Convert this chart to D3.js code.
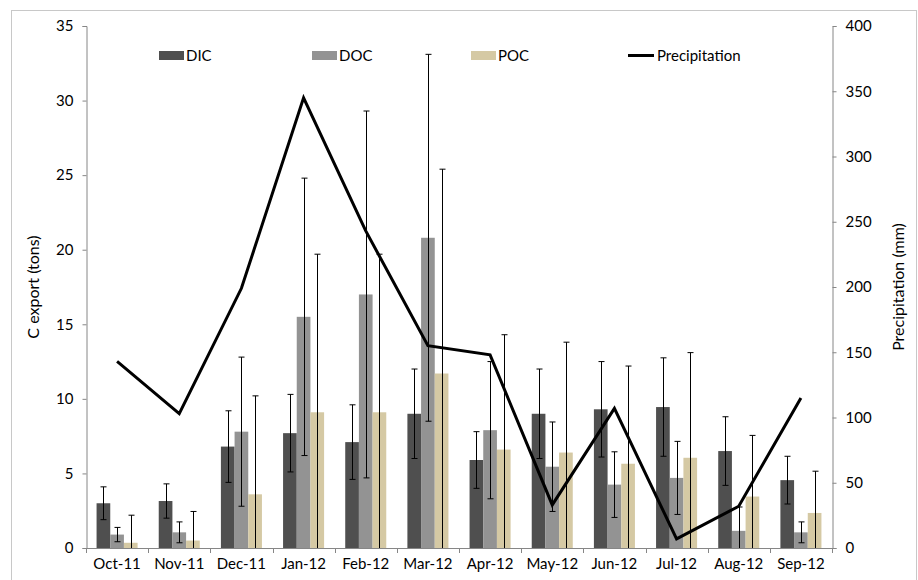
<!DOCTYPE html>
<html>
<head>
<meta charset="utf-8">
<script src="https://cdn.jsdelivr.net/npm/d3@7"></script>
<style>
    body { margin: 0; background: #fff; }
    svg text { font-family: Lato, 'Open Sans', sans-serif; fill: #000; }
</style>
</head>
<body>
<svg id="chart-svg" width="918" height="580"></svg>
<script>
const months = ['Oct-11', 'Nov-11', 'Dec-11', 'Jan-12', 'Feb-12', 'Mar-12', 'Apr-12', 'May-12', 'Jun-12', 'Jul-12', 'Aug-12', 'Sep-12'];
const dic = [3.0, 3.15, 6.8, 7.7, 7.1, 9.0, 5.9, 9.0, 9.3, 9.45, 6.5, 4.55];
const dicErr = [1.1, 1.15, 2.4, 2.6, 2.5, 3.0, 1.9, 3.0, 3.2, 3.3, 2.3, 1.6];
const doc = [0.9, 1.05, 7.8, 15.5, 17.0, 20.8, 7.9, 5.45, 4.25, 4.7, 1.15, 1.05];
const docErr = [0.48, 0.7, 5.0, 9.3, 12.3, 12.3, 4.6, 3.0, 2.2, 2.45, 1.6, 0.7];
const poc = [0.35, 0.5, 3.6, 9.1, 9.1, 11.7, 6.6, 6.4, 5.65, 6.05, 3.45, 2.35];
const pocErr = [1.85, 1.95, 6.6, 10.6, 10.6, 13.7, 7.7, 7.4, 6.55, 7.05, 4.1, 2.8];
const precip = [143, 103, 199, 345, 243, 155, 148, 33, 107, 7, 32, 115];

const leftTicks = [0, 5, 10, 15, 20, 25, 30, 35];
const rightTicks = [0, 50, 100, 150, 200, 250, 300, 350, 400];

const margin = { left: 86, right: 86, top: 26, bottom: 32 };
const size = { width: 918, height: 580 };
const axisColor = '#868686';

const series = [
    { name: 'DIC', values: dic, err: dicErr, color: '#4f4f4f' },
    { name: 'DOC', values: doc, err: docErr, color: '#939393' },
    { name: 'POC', values: poc, err: pocErr, color: '#d5c9a4' }
];

const svg = d3.select('#chart-svg');

// outer frame
svg.append('rect')
    .attr('x', 11.5).attr('y', 10.5)
    .attr('width', 905).attr('height', 580)
    .attr('fill', 'none')
    .attr('stroke', '#c8c8c8');

const x = d3.scaleBand()
    .domain(months)
    .range([margin.left, size.width - margin.right]);

const xInner = d3.scaleBand()
    .domain(series.map(s => s.name))
    .range([x.bandwidth() * 0.17, x.bandwidth() * 0.83]);

const y = d3.scaleLinear()
    .domain([0, 35])
    .range([size.height - margin.bottom, margin.top]);

const y2 = d3.scaleLinear()
    .domain([0, 400])
    .range([size.height - margin.bottom, margin.top]);

// Bars
const groups = svg.append('g')
    .selectAll('g')
    .data(series)
    .enter()
    .append('g');

groups.selectAll('rect')
    .data(s => s.values.map((v, i) => ({ s, v, i })))
    .enter()
    .append('rect')
    .attr('x', d => x(months[d.i]) + xInner(d.s.name))
    .attr('y', d => y(d.v))
    .attr('width', xInner.bandwidth())
    .attr('height', d => y(0) - y(d.v))
    .attr('fill', d => d.s.color);

// Error bars
const errs = svg.append('g').attr('stroke', '#000').attr('stroke-width', 1);
series.forEach(s => {
    s.values.forEach((v, i) => {
        const cx = Math.round(x(months[i]) + xInner(s.name) + xInner.bandwidth() / 2) + 0.5;
        const hi = v + s.err[i];
        const lo = Math.max(0, v - s.err[i]);
        errs.append('line')
            .attr('x1', cx).attr('x2', cx)
            .attr('y1', y(hi)).attr('y2', y(lo));
        errs.append('line')
            .attr('x1', cx - 3).attr('x2', cx + 3)
            .attr('y1', y(hi)).attr('y2', y(hi));
        if (v - s.err[i] > 0) {
            errs.append('line')
                .attr('x1', cx - 3).attr('x2', cx + 3)
                .attr('y1', y(lo)).attr('y2', y(lo));
        }
    });
});

// Precipitation line
const line = d3.line()
    .x((d, i) => x(months[i]) + x.bandwidth() / 2)
    .y(d => y2(d));

svg.append('path')
    .datum(precip)
    .attr('d', line)
    .attr('fill', 'none')
    .attr('stroke', '#000')
    .attr('stroke-width', 3)
    .attr('stroke-linejoin', 'miter');

// Axes
const xAxis = svg.append('g')
    .attr('transform', `translate(0,${y(0)})`);
xAxis.append('line')
    .attr('x1', margin.left).attr('x2', size.width - margin.right)
    .attr('y1', 0.5).attr('y2', 0.5)
    .attr('stroke', axisColor);
xAxis.selectAll('.tick')
    .data(d3.range(months.length + 1))
    .enter().append('line')
    .attr('x1', i => Math.round(margin.left + i * x.step()) + 0.5)
    .attr('x2', i => Math.round(margin.left + i * x.step()) + 0.5)
    .attr('y1', 0).attr('y2', 5)
    .attr('stroke', axisColor);
xAxis.selectAll('.label')
    .data(months)
    .enter().append('text')
    .attr('x', d => x(d) + x.bandwidth() / 2)
    .attr('y', 21)
    .attr('text-anchor', 'middle')
    .style('font-size', '15px')
    .text(d => d);

const yAxis = svg.append('g')
    .attr('transform', `translate(${margin.left + 0.5},0)`)
    .call(d3.axisLeft(y).tickValues(leftTicks).tickSize(4).tickPadding(9));
yAxis.selectAll('path, line').attr('stroke', axisColor);
yAxis.selectAll('text').style('font-size', '15px');

const yAxis2 = svg.append('g')
    .attr('transform', `translate(${size.width - margin.right + 0.5},0)`)
    .call(d3.axisRight(y2).tickValues(rightTicks).tickSize(4).tickPadding(9));
yAxis2.selectAll('path, line').attr('stroke', axisColor);
yAxis2.selectAll('text').style('font-size', '15px');

// Axis titles
svg.append('text')
    .attr('transform', `translate(39, ${(y(0) + y(35)) / 2}) rotate(-90)`)
    .attr('text-anchor', 'middle')
    .style('font-size', '16px')
    .text('C export (tons)');

svg.append('text')
    .attr('transform', `translate(904, ${(y(0) + y(35)) / 2}) rotate(-90)`)
    .attr('text-anchor', 'middle')
    .style('font-size', '16px')
    .text('Precipitation (mm)');

// Legend
const legendX = [159, 312, 471];
series.forEach((s, i) => {
    svg.append('rect')
        .attr('x', legendX[i]).attr('y', 51)
        .attr('width', 25).attr('height', 9)
        .attr('fill', s.color);
    svg.append('text')
        .attr('x', legendX[i] + 27).attr('y', 61)
        .style('font-size', '15px')
        .text(s.name);
});
svg.append('line')
    .attr('x1', 628).attr('x2', 654)
    .attr('y1', 55.5).attr('y2', 55.5)
    .attr('stroke', '#000').attr('stroke-width', 3);
svg.append('text')
    .attr('x', 657).attr('y', 61)
    .style('font-size', '15px')
    .text('Precipitation');
</script>
</body>
</html>
